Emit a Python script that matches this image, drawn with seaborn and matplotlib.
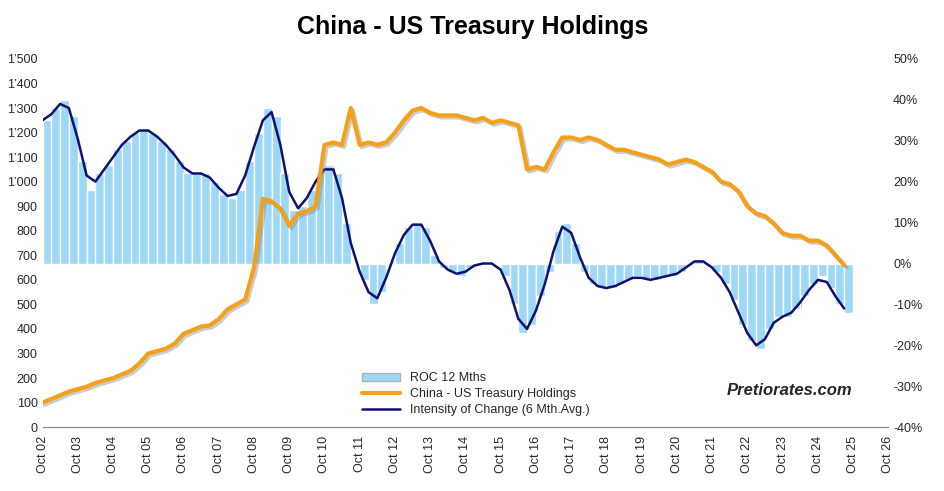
import numpy as np
import pandas as pd
import seaborn as sns
import matplotlib
matplotlib.use('Agg')
import matplotlib.pyplot as plt
import matplotlib.patheffects as pe
from matplotlib.ticker import FuncFormatter
from matplotlib.lines import Line2D
from matplotlib.patches import Patch

# quarterly points, Oct 2002 .. Jul 2025
dates = pd.date_range('2002-10-01', '2025-07-01', freq='QS-OCT')

holdings = [100, 115, 130, 145, 155, 165, 180, 190, 200, 215, 230, 260,
            300, 310, 320, 340, 380, 395, 410, 415, 440, 480, 500, 520,
            650, 930, 920, 890, 820, 870, 880, 900, 1150, 1160, 1150, 1300,
            1150, 1160, 1150, 1160, 1200, 1250, 1290, 1300, 1280, 1270, 1270, 1270,
            1260, 1250, 1260, 1240, 1250, 1240, 1230, 1050, 1060, 1050, 1120, 1180,
            1180, 1170, 1180, 1170, 1150, 1130, 1130, 1120, 1110, 1100, 1090, 1070,
            1080, 1090, 1080, 1060, 1040, 1000, 990, 960, 900, 870, 860, 830,
            790, 780, 780, 760, 760, 740, 700, 660]

roc = [35, 38, 40, 36, 25, 18, 22, 24, 28, 30, 32, 33,
       32, 30, 28, 25, 22, 22, 22, 20, 17, 16, 18, 25,
       32, 38, 36, 22, 13, 14, 18, 22, 24, 22, 10, 0,
       -4, -10, -7, 0, 5, 9, 10, 9, 2, -1, -2, -3,
       -1, 0, 0, 0, -3, -10, -17, -15, -8, -2, 8, 10,
       5, -2, -5, -6, -6, -5, -4, -3, -4, -4, -3, -3,
       -2, 0, 1, 0, -2, -5, -9, -15, -19, -21, -16, -13,
       -13, -11, -8, -5, -3, -6, -10, -12]

df = pd.DataFrame({'date': dates, 'holdings': holdings, 'roc': roc})
df['intensity'] = df['roc'].rolling(2, min_periods=1).mean()

sns.set_style('white')
plt.rcParams['font.family'] = ['Arial', 'Liberation Sans', 'DejaVu Sans']

fig, ax = plt.subplots(figsize=(9.45, 4.91), dpi=100)
ax2 = ax.twinx()

# ROC bars on the right axis, with grey shadow
w = pd.Timedelta(days=93)
ax2.bar(df['date'] + pd.Timedelta(days=12), df['roc'], width=w, color='#b8b8b8', align='edge', zorder=1)
ax2.bar(df['date'], df['roc'], width=w, color='#9ed8f7', align='edge', zorder=2)
sns.lineplot(x=df['date'], y=df['intensity'], ax=ax2, color='#10106e', lw=1.8, zorder=3, legend=False)

# holdings on the left axis
ax.set_zorder(ax2.get_zorder() + 1)
ax.patch.set_visible(False)
sns.lineplot(x=df['date'], y=df['holdings'], ax=ax, color='#f5a01a', lw=3, legend=False,
             path_effects=[pe.SimpleLineShadow(offset=(1.5, -1.5), shadow_color='grey', alpha=0.4), pe.Normal()])

ax.set_ylim(0, 1500)
ax.set_yticks(range(0, 1501, 100))
ax.yaxis.set_major_formatter(FuncFormatter(lambda v, p: f"{int(v):,}".replace(',', '\u2019')))
ax2.set_ylim(-40, 50)
ax2.set_yticks(range(-40, 51, 10))
ax2.yaxis.set_major_formatter(FuncFormatter(lambda v, p: f"{int(v)}%"))

xt = pd.date_range('2002-10-01', '2026-10-01', freq='12MS')
ax.set_xticks(xt)
ax.set_xticklabels([d.strftime('Oct %y') for d in xt], rotation=90, fontsize=9)
ax.set_xlim(pd.Timestamp('2002-10-01'), pd.Timestamp('2026-10-01'))
ax.set_xlabel('')
ax.set_ylabel('')
ax2.set_ylabel('')
ax.tick_params(axis='y', labelsize=9, length=0)
ax2.tick_params(axis='y', labelsize=9, length=0)
ax.tick_params(axis='x', length=3)
for a in (ax, ax2):
    for s in ['top', 'right', 'left']:
        a.spines[s].set_visible(False)
    a.spines['bottom'].set_color('#888888')

handles = [Patch(facecolor='#9ed8f7', edgecolor='#b0b0b0'),
           Line2D([], [], color='#f5a01a', lw=3),
           Line2D([], [], color='#10106e', lw=1.8)]
ax.legend(handles, ['ROC 12 Mths', 'China - US Treasury Holdings', 'Intensity of Change (6 Mth.Avg.)'],
          loc='lower left', bbox_to_anchor=(0.365, 0.0), frameon=False, fontsize=9,
          handlelength=3, labelspacing=0.3)

fig.suptitle('China - US Treasury Holdings', fontsize=18, fontweight='bold', y=0.97, color='black')
fig.text(0.835, 0.195, 'Pretiorates.com', fontsize=12, fontweight='bold', style='italic', ha='center')

fig.subplots_adjust(left=0.045, right=0.94, top=0.88, bottom=0.13)
fig.savefig('out.png', dpi=100)
